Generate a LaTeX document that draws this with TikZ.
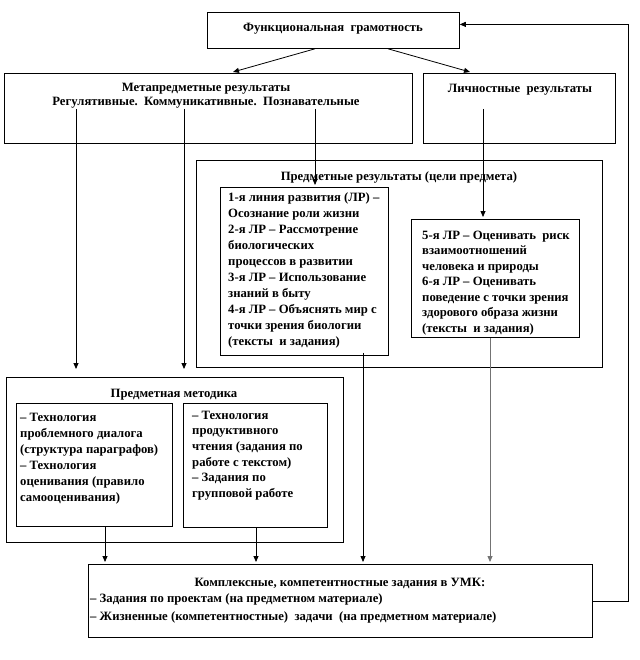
\documentclass[tikz,border=0pt]{standalone}
\usepackage{fontspec}
\setmainfont{Liberation Serif}
\usetikzlibrary{arrows.meta}
\begin{document}
\begin{tikzpicture}[x=1pt,y=-1pt,
  box/.style={draw, line width=0.8pt, inner sep=0pt, anchor=north west},
  txt/.style={inner sep=0pt, font=\bfseries\fontsize{12.7}{16}\selectfont},
  blk/.style={txt, anchor=north west, align=left},
  conn/.style={line width=0.8pt},
  arr/.style={conn, -{Triangle[length=6pt,width=5pt]}},
  garr/.style={arr, draw=black!55}]
\useasboundingbox (0,0) rectangle (639,660);
% boxes
\node[box, minimum width=252pt, minimum height=36pt] (top) at (207,12) {};
\node[box, minimum width=408pt, minimum height=70pt] (meta) at (4,73) {};
\node[box, minimum width=192pt, minimum height=70pt] (pers) at (423,73) {};
\node[box, minimum width=406pt, minimum height=207pt] (subj) at (196,160) {};
\node[box, minimum width=168pt, minimum height=168pt] (linl) at (220,187) {};
\node[box, minimum width=168pt, minimum height=118pt] (linr) at (411,219) {};
\node[box, minimum width=337pt, minimum height=165pt] (meth) at (6,377) {};
\node[box, minimum width=156pt, minimum height=123pt] (ml) at (16,403) {};
\node[box, minimum width=144pt, minimum height=124pt] (mr) at (183,403) {};
\node[box, minimum width=504pt, minimum height=73pt] (bot) at (88,564) {};
% texts
\node[txt, anchor=base] (ttop) at (333,32) {Функциональная\ \ грамотность};
\node[txt, anchor=base] (tmeta1) at (206,92) {Метапредметные результаты};
\node[txt, anchor=base] (tmeta2) at (206,106) {Регулятивные.\ \ Коммуникативные.\ \ Познавательные};
\node[txt, anchor=base] (tpers) at (520,93) {Личностные\ \ результаты};
\node[txt, anchor=base] (tsubj) at (399,181) {Предметные результаты (цели предмета)};
\node[blk] (tlinl) at (228,189.8) {\strut 1-я линия развития (ЛР) –\\
Осознание роли жизни\\
2-я ЛР – Рассмотрение\\
биологических\\
процессов в развитии\\
3-я ЛР – Использование\\
знаний в быту\\
4-я ЛР – Объяснять мир с\\
точки зрения биологии\\
(тексты\ \ и задания)};
\node[blk, font=\bfseries\fontsize{12.7}{15.5}\selectfont] (tlinr) at (422,228.2) {\strut 5-я ЛР – Оценивать\ \ риск\\
взаимоотношений\\
человека и природы\\
6-я ЛР – Оценивать\\
поведение с точки зрения\\
здорового образа жизни\\
(тексты\ \ и задания)};
\node[txt, anchor=base] (tmeth) at (174,397) {Предметная методика};
\node[blk] (tml) at (20,409.8) {\strut – Технология\\
проблемного диалога\\
(структура параграфов)\\
– Технология\\
оценивания (правило\\
самооценивания)};
\node[blk, font=\bfseries\fontsize{12.7}{15.6}\selectfont] (tmr) at (192,408.1) {\strut – Технология\\
продуктивного\\
чтения (задания по\\
работе с текстом)\\
– Задания по\\
групповой работе};
\node[txt, anchor=base] (tbot) at (340,586) {Комплексные, компетентностные задания в УМК:};
\node[txt, anchor=base west] (tbot1) at (90,602) {– Задания по проектам (на предметном материале)};
\node[txt, anchor=base west] (tbot2) at (90,620) {– Жизненные (компетентностные)\ \ задачи\ \ (на предметном материале)};
% connectors
\draw[arr] ([xshift=108pt]top.south west) -- ([xshift=229pt,yshift=1pt]meta.north west);
\draw[arr] ([xshift=181pt]top.south west) -- ([xshift=47pt,yshift=1pt]pers.north west);
\draw[arr] ([xshift=72pt,yshift=35pt]meta.south west) -- ([xshift=70pt,yshift=8pt]meth.north west);
\draw[arr] ([xshift=180pt,yshift=35pt]meta.south west) -- ([xshift=178pt,yshift=8pt]meth.north west);
\draw[arr] ([xshift=311pt,yshift=35pt]meta.south west) -- ([xshift=95pt,yshift=2pt]linl.north west);
\draw[arr] ([xshift=60pt,yshift=35pt]pers.south west) -- ([xshift=72pt,yshift=2pt]linr.north west);
\draw[arr] ([xshift=143pt,yshift=3pt]linl.south west) -- ([xshift=275pt,yshift=2pt]bot.north west);
\draw[garr] ([xshift=79pt]linr.south west) -- ([xshift=402pt,yshift=2pt]bot.north west);
\draw[arr] ([xshift=89pt]ml.south west) -- ([xshift=17pt,yshift=2pt]bot.north west);
\draw[arr] ([xshift=73pt]mr.south west) -- ([xshift=168pt,yshift=2pt]bot.north west);
\draw[arr] (bot.east) -- ++(36,0) |- ([yshift=6pt]top.east);
\end{tikzpicture}
\end{document}
